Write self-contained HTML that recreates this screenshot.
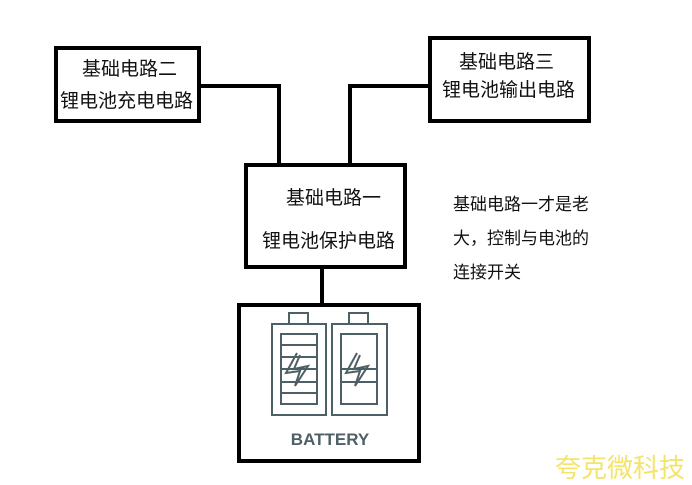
<!DOCTYPE html>
<html><head><meta charset="utf-8"><style>
body{margin:0;width:692px;height:479px;background:#fff;overflow:hidden;position:relative;font-family:"Liberation Sans","Noto Sans CJK SC",sans-serif}
.b{position:absolute;border:4px solid #000;box-sizing:border-box;background:#fff}
.t{position:absolute;font-size:19px;color:#111;white-space:nowrap}
</style></head><body>
<svg width="692" height="479" style="position:absolute;left:0;top:0">
<g stroke="#000" stroke-width="4" fill="none">
<polyline points="200,86 279,86 279,165"/>
<polyline points="350,165 350,86 428,86"/>
<line x1="322" y1="266" x2="322" y2="305"/>
</g>
</svg>
<div class="b" style="left:54px;top:46px;width:147px;height:77px"></div>
<div class="t" style="left:82px;top:54px">基础电路二</div>
<div class="t" style="left:60px;top:86px">锂电池充电电路</div>
<div class="b" style="left:428px;top:36px;width:163px;height:87px"></div>
<div class="t" style="left:459px;top:47px">基础电路三</div>
<div class="t" style="left:442px;top:75px">锂电池输出电路</div>
<div class="b" style="left:244px;top:163px;width:163px;height:106px"></div>
<div class="t" style="left:286px;top:183px">基础电路一</div>
<div class="t" style="left:262px;top:226px">锂电池保护电路</div>
<div class="t" style="left:453px;top:188px;line-height:34px;font-size:17px;white-space:normal;width:170px">基础电路一才是老<br>大，控制与电池的<br>连接开关</div>
<div class="b" style="left:237px;top:303px;width:184px;height:160px"></div>
<svg width="692" height="479" style="position:absolute;left:0;top:0">
<g stroke="#4d6066" stroke-width="2" fill="none">
<rect x="272" y="324" width="54" height="91"/>
<rect x="289" y="313" width="19" height="11"/>
<rect x="281" y="334" width="36" height="70"/>
<line x1="281" y1="345" x2="317" y2="345"/>
<line x1="281" y1="357" x2="317" y2="357"/>
<line x1="281" y1="369" x2="317" y2="369"/>
<line x1="281" y1="382" x2="317" y2="382"/>
<line x1="281" y1="393" x2="317" y2="393"/>
<polyline points="297,353 286,373 300,371 295,386 308,366 294,369 300,355"/>
<rect x="332" y="324" width="55" height="91"/>
<rect x="349" y="313" width="19" height="11"/>
<rect x="341" y="334" width="36" height="70"/>
<line x1="341" y1="369" x2="377" y2="369"/>
<line x1="341" y1="382" x2="377" y2="382"/>
<polyline points="357,353 346,373 360,371 355,386 368,366 354,369 360,355"/>
</g>
<text x="330" y="445" text-anchor="middle" font-family="Liberation Sans,sans-serif" font-weight="bold" font-size="17" fill="#4d6066">BATTERY</text>
</svg>
<div class="t" style="left:555px;top:448px;font-size:26px;color:#f3e46a">夸克微科技</div>
</body></html>
